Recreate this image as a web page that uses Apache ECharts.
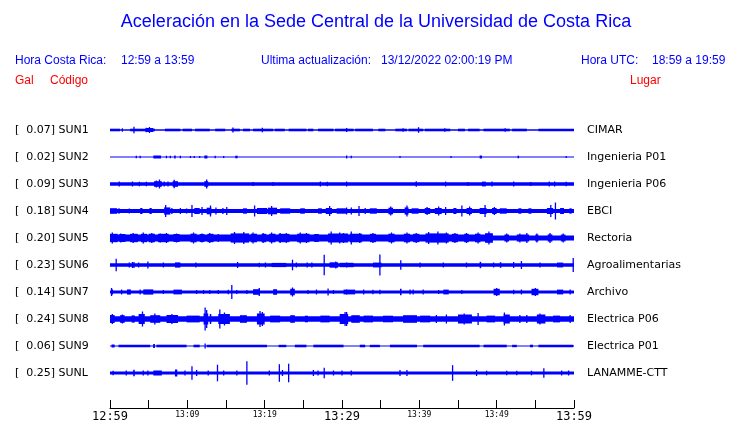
<!DOCTYPE html>
<html><head><meta charset="utf-8">
<script src="https://cdn.jsdelivr.net/npm/echarts@6/dist/echarts.min.js"></script>
<style>html,body{margin:0;padding:0;background:#fff}#c{width:740px;height:423px}</style>
</head><body><div id="c"></div>
<script>
// ---------- data ----------
var codes  = ['SUN1','SUN2','SUN3','SUN4','SUN5','SUN6','SUN7','SUN8','SUN9','SUNL'];
var gals   = ['0.07','0.02','0.09','0.18','0.20','0.23','0.14','0.24','0.06','0.25'];
var places = ['CIMAR','Ingenieria P01','Ingenieria P06','EBCI','Rectoria','Agroalimentarias','Archivo','Electrica P06','Electrica P01','LANAMME-CTT'];
var tickLabels = ['12:59','13:09','13:19','13:29','13:39','13:49','13:59'];
var bigLabels  = ['12:59','13:29','13:59'];

// per trace: base half-amplitude, bursts [startMin, endMin, half], spikes [min, half]
var sun1Base = 0.8;
var sun1Bursts = [[0,1.3,1.3],[2.6,5.8,1.3],[4.6,5.6,2.0],[7.1,9.1,1.3],[9.4,10.6,1.3],[11.0,12.9,1.3],[13.6,14.9,1.3],[15.7,16.8,1.3],[17.2,18.1,1.3],[18.5,21.1,1.3],[21.3,22.6,1.3],[23.1,25.4,1.3],[25.6,26.3,1.3],[26.9,28.9,1.3],[29.1,31.5,1.3],[31.7,34.0,1.3],[34.7,35.6,1.3],[36.9,38.4,1.3],[38.6,40.5,1.3],[40.7,44.0,1.3],[45.0,45.9,1.3],[46.3,47.8,1.3],[48.3,51.7,1.3],[52.0,53.9,1.3],[55.4,60,1.3]];
var sun1Spikes = [[1.6,1.7],[3.1,3.3],[4.7,2.3],[5.1,3.0],[15.9,2.5],[19.7,2.2],[30.6,2.0],[37.9,1.8],[39.9,2.8],[43.3,1.8],[51.1,1.8]];

var sun2Base = 0.5;
var sun2Bursts = [[5.6,6.6,1.5],[8.3,8.5,1.5],[12.2,12.6,1.5],[16.2,16.5,1.3],[47.8,48.1,1.5],[52.7,52.9,1.3]];
var sun2Spikes = [[3.4,1.3],[3.9,1.3],[7.3,1.3],[7.8,1.3],[9.1,1.3],[10.4,1.0],[10.9,1.0],[11.6,1.0],[13.6,1.3],[14.7,1.0],[30.6,1.5],[31.2,1.3],[37.5,1.0],[44.1,1.0],[59.0,1.0]];

var sun3Base = 1.7;
var sun3Bursts = [[5.7,6.7,2.8],[8.1,8.8,2.8],[12.2,12.7,2.8],[48.1,48.6,2.4]];
var sun3Spikes = [[1.2,2.5],[2.9,2.5],[3.8,2.3],[4.7,2.3],[6.0,3.5],[6.4,4.5],[7.0,2.5],[7.5,2.5],[8.3,4.3],[12.5,4.5],[18.5,2.0],[21.1,2.0],[27.2,2.5],[28.1,2.3],[30.6,2.5],[39.6,2.8],[43.4,2.5],[46.3,2.0],[49.4,2.5],[52.2,2.5],[54.4,2.0],[56.8,2.5],[57.5,2.5],[59.0,2.3]];

var sun4Base = 2.1;
var sun4Bursts = [[0,0.9,2.8],[1.0,1.3,2.5],[3.9,4.2,3.0],[5.1,5.4,3.0],[7.0,7.8,3.6],[9.8,10.0,2.5],[10.9,11.6,3.0],[12.5,13.1,3.3],[17.2,17.7,2.7],[19.0,20.3,3.0],[20.4,21.6,3.3],[22.0,23.3,2.7],[24.6,25.2,2.7],[26.9,27.4,2.7],[27.9,28.7,3.0],[29.3,30.6,2.7],[33.6,34.5,2.7],[36.0,36.6,3.3],[38.1,38.6,3.6],[39.0,39.9,2.7],[40.7,41.4,3.0],[42.0,42.9,3.0],[44.4,44.8,3.0],[46.1,46.8,3.0],[47.8,48.7,3.0],[49.4,50.0,3.0],[50.4,51.3,2.7],[52.8,53.2,2.7],[54.1,54.5,2.7],[56.5,57.3,3.0],[58.2,58.7,3.0],[59.4,59.7,2.7]];
var sun4Spikes = [[2.5,2.5],[7.2,6.0],[8.0,3.0],[9.1,3.0],[10.6,6.0],[11.9,4.0],[13.0,5.5],[13.7,3.5],[14.6,3.0],[15.1,4.0],[18.7,5.5],[20.9,5.0],[28.4,5.0],[30.6,3.5],[31.2,3.5],[32.2,5.0],[33.0,3.0],[36.3,4.5],[38.4,5.5],[41.0,4.0],[42.5,4.5],[43.4,4.0],[45.5,5.5],[46.5,4.5],[48.5,6.0],[49.7,4.0],[57.0,6.0],[57.6,8.5]];

var sun5Base = 2.6;
var sun5Bursts = [[0,49.5,3.5],[0,1.0,4.2],[1.2,2.0,4.0],[2.6,3.6,4.2],[4.0,4.8,4.2],[5.0,5.8,4.3],[6.2,7.6,4.2],[8.2,9.0,4.0],[10.4,11.2,4.3],[11.6,12.2,4.0],[12.6,13.4,4.2],[15.6,18.0,4.6],[18.2,19.0,4.3],[19.6,20.2,4.2],[20.6,21.4,4.3],[21.8,23.2,4.2],[24.2,25.8,4.3],[26.4,27.0,4.0],[28.2,30.8,4.5],[31.0,32.6,4.3],[33.6,34.4,4.2],[36.0,36.8,4.3],[38.0,38.8,4.3],[39.2,40.0,4.2],[40.8,43.8,4.6],[44.2,45.0,4.2],[45.8,46.4,4.2],[47.2,47.9,4.3],[48.5,49.5,4.8],[51.0,51.6,3.5],[52.6,54.2,3.5],[55.0,55.4,3.4],[56.6,57.2,3.6],[58.3,58.9,3.4]];
var sun5Spikes = [[0.3,5.5],[1.4,4.5],[3.0,5.0],[4.3,5.5],[5.4,5.0],[6.5,4.5],[7.3,5.0],[8.6,4.5],[10.8,5.5],[11.9,4.5],[12.9,5.0],[14.0,4.0],[16.1,6.0],[17.3,6.0],[18.5,5.5],[19.8,5.0],[20.9,5.5],[22.0,5.0],[22.8,5.0],[24.6,5.5],[25.4,5.0],[28.6,6.5],[29.7,5.5],[30.2,5.0],[31.2,6.5],[32.3,5.0],[34.0,5.0],[36.4,5.5],[38.4,5.5],[39.6,5.0],[41.2,6.0],[42.4,6.5],[43.5,5.5],[44.6,5.0],[46.1,5.0],[47.6,5.5],[49.0,6.5],[51.3,4.5],[53.0,4.5],[53.9,5.0],[55.2,4.5],[56.9,5.0],[58.6,4.5]];

var sun6Base = 1.7;
var sun6Bursts = [[8.4,9.1,2.6],[20.9,22.8,2.1],[28.4,29.5,2.7],[29.7,31.5,2.2],[34.0,35.1,2.4],[47.8,48.0,3.2],[50.4,50.6,2.8],[57.8,58.6,2.4]];
var sun6Spikes = [[0.8,6.3],[2.5,2.5],[2.9,3.0],[3.1,3.0],[3.7,2.5],[4.9,3.5],[6.9,2.5],[11.1,2.5],[16.5,3.0],[19.3,2.3],[20.1,2.5],[23.6,5.3],[24.1,2.5],[25.5,2.5],[26.1,2.5],[27.7,10.3],[29.2,3.5],[30.6,2.5],[34.9,10.5],[37.6,4.7],[40.1,2.5],[43.1,2.5],[46.1,2.5],[49.6,2.5],[52.2,3.0],[53.2,4.0],[55.6,2.5],[59.9,7.0]];

var sun7Base = 1.6;
var sun7Bursts = [[0.2,0.4,2.5],[2.2,2.7,2.6],[4.3,5.6,2.6],[8.2,9.3,2.4],[18.5,19.4,2.8],[21.1,21.6,2.8],[23.3,23.9,3.2],[30.2,31.7,2.4],[37.5,37.7,3.2],[43.1,43.8,2.4],[49.6,50.4,3.2],[54.5,55.4,3.2],[57.8,58.6,2.4]];
var sun7Spikes = [[0.2,4.0],[1.5,2.5],[3.9,2.5],[6.9,2.0],[11.2,2.0],[12.1,2.0],[12.9,2.0],[14.0,2.0],[15.3,2.3],[15.75,7.0],[16.4,2.0],[17.7,2.0],[19.3,4.0],[23.6,4.5],[25.6,2.0],[26.7,2.5],[28.2,3.5],[28.9,2.0],[30.6,2.5],[32.8,2.5],[34.0,2.3],[34.9,2.3],[38.8,2.5],[39.2,2.5],[40.5,2.5],[42.5,2.0],[45.5,2.0],[50.0,4.0],[52.2,2.3],[53.2,2.5],[55.0,4.0],[59.5,2.5]];

var sun8Base = 2.8;
var sun8Bursts = [[0,0.6,4.0],[1.3,1.9,3.8],[2.8,3.2,3.6],[3.7,4.5,5.0],[5.2,6.5,3.8],[7.3,8.8,4.0],[9.9,11.6,3.4],[12.1,12.7,5.5],[12.9,13.1,5.0],[14.0,15.5,5.0],[16.8,17.7,3.8],[19.0,20.0,5.5],[20.7,22.0,3.4],[23.3,23.9,3.8],[25.2,25.6,3.3],[27.2,28.4,3.4],[29.7,30.8,5.0],[31.2,32.3,3.8],[32.8,34.0,3.4],[35.3,36.6,3.3],[37.9,39.7,3.8],[40.1,41.4,3.4],[45.0,46.8,4.5],[48.7,49.8,3.4],[50.9,51.7,4.5],[55.2,56.3,4.5],[57.3,58.2,3.4]];
var sun8Spikes = [[0.3,5.0],[1.6,4.5],[4.2,7.5],[5.8,5.5],[8.0,5.0],[12.3,11.5],[12.5,9.0],[14.2,9.5],[14.8,6.5],[19.4,8.0],[19.7,7.0],[30.4,7.0],[30.6,7.0],[42.2,4.0],[43.5,4.5],[45.8,5.5],[47.6,6.0],[51.0,6.5],[53.0,4.0],[53.9,4.0],[55.6,5.5],[59.5,4.0]];

var sun9Base = 0.6;
var sun9Bursts = [[0.2,0.6,1.5],[1.1,5.2,1.2],[5.6,5.8,2.0],[6.0,9.9,1.3],[10.8,11.6,1.3],[12.5,20.3,1.3],[21.8,22.8,1.2],[23.9,25.4,1.3],[26.3,30.2,1.3],[32.3,33.0,1.3],[33.6,34.9,1.2],[36.2,39.7,1.3],[40.5,47.8,1.3],[48.3,51.3,1.3],[52.0,52.6,1.2],[54.3,54.7,1.3],[55.4,59.9,1.3]];
var sun9Spikes = [[5.7,2.0],[12.3,2.5]];

var sunlBase = 1.5;
var sunlBursts = [[3.0,3.2,3.3],[5.6,6.7,2.5],[8.4,8.7,3.5]];
var sunlSpikes = [[0.4,2.3],[2.1,2.5],[4.3,2.5],[4.9,2.5],[9.7,2.5],[10.6,6.7],[11.2,3.0],[12.7,2.5],[13.9,8.3],[14.7,2.5],[16.4,2.5],[17.7,11.8],[20.6,2.5],[21.9,8.8],[22.3,3.0],[23.1,9.3],[26.3,3.0],[26.9,2.5],[27.7,5.2],[28.9,2.5],[30.0,2.5],[31.2,2.5],[37.5,3.0],[38.4,3.0],[44.3,7.8],[47.4,3.0],[48.7,2.3],[51.3,2.3],[52.6,2.3],[54.5,2.3],[56.1,4.7],[58.4,2.5],[59.3,2.5]];

var traceBases  = [sun1Base, sun2Base, sun3Base, sun4Base, sun5Base, sun6Base, sun7Base, sun8Base, sun9Base, sunlBase];
var traceBursts = [sun1Bursts, sun2Bursts, sun3Bursts, sun4Bursts, sun5Bursts, sun6Bursts, sun7Bursts, sun8Bursts, sun9Bursts, sunlBursts];
var traceSpikes = [sun1Spikes, sun2Spikes, sun3Spikes, sun4Spikes, sun5Spikes, sun6Spikes, sun7Spikes, sun8Spikes, sun9Spikes, sunlSpikes];

// ---------- build ----------
var ROW_GAP = 27;
var BLUE = '#0000ff';
var rects = [];
for (var r = 0; r < codes.length; r++) {
  rects.push([0, 60, traceBases[r], r]);
  traceBursts[r].forEach(function (b) { rects.push([b[0], b[1], b[2], r]); });
  traceSpikes[r].forEach(function (s) { rects.push([s[0], s[0], s[1], r]); });
}

function renderItem(params, api) {
  var c = api.value(3) * ROW_GAP, h = api.value(2);
  var a = api.coord([api.value(0), c - h]);
  var b = api.coord([api.value(1), c + h]);
  var x0 = Math.min(a[0], b[0]), x1 = Math.max(a[0], b[0]);
  var w = x1 - x0;
  if (w < 1.3) { var mid = (x0 + x1) / 2; x0 = mid - 0.65; w = 1.3; }
  var y0 = Math.min(a[1], b[1]), hh = Math.max(Math.abs(b[1] - a[1]), 1);
  return { type: 'rect', shape: { x: x0, y: y0, width: w, height: hh }, style: { fill: BLUE } };
}

var SANS = '"Liberation Sans", Arial, sans-serif';
var DJ = '"DejaVu Sans", sans-serif';
var graphics = [
  { type: 'text', style: { text: 'Aceleración en la Sede Central de la Universidad de Costa Rica', x: 376, y: 22, textAlign: 'center', textVerticalAlign: 'middle', font: '18px ' + SANS, fill: BLUE } },
  { type: 'text', style: { text: 'Hora Costa Rica:', x: 15, y: 61, textVerticalAlign: 'middle', font: '12px ' + SANS, fill: BLUE } },
  { type: 'text', style: { text: '12:59 a 13:59', x: 121, y: 61, textVerticalAlign: 'middle', font: '12px ' + SANS, fill: BLUE } },
  { type: 'text', style: { text: 'Ultima actualización:', x: 261, y: 61, textVerticalAlign: 'middle', font: '12px ' + SANS, fill: BLUE } },
  { type: 'text', style: { text: '13/12/2022 02:00:19 PM', x: 381, y: 61, textVerticalAlign: 'middle', font: '12px ' + SANS, fill: BLUE } },
  { type: 'text', style: { text: 'Hora UTC:', x: 581, y: 61, textVerticalAlign: 'middle', font: '12px ' + SANS, fill: BLUE } },
  { type: 'text', style: { text: '18:59 a 19:59', x: 652, y: 61, textVerticalAlign: 'middle', font: '12px ' + SANS, fill: BLUE } },
  { type: 'text', style: { text: 'Gal', x: 15, y: 81, textVerticalAlign: 'middle', font: '12px ' + SANS, fill: '#ff0000' } },
  { type: 'text', style: { text: 'Código', x: 50, y: 81, textVerticalAlign: 'middle', font: '12px ' + SANS, fill: '#ff0000' } },
  { type: 'text', style: { text: 'Lugar', x: 630, y: 81, textVerticalAlign: 'middle', font: '12px ' + SANS, fill: '#ff0000' } }
];
for (var i = 0; i < codes.length; i++) {
  var yy = 130 + i * ROW_GAP;
  graphics.push({ type: 'text', style: { text: '[  ' + gals[i] + '] ' + codes[i], x: 15, y: yy, textVerticalAlign: 'middle', font: '11px ' + DJ, fill: '#000' } });
  graphics.push({ type: 'text', style: { text: places[i], x: 587, y: yy, textVerticalAlign: 'middle', font: '11px ' + DJ, fill: '#000' } });
}

var chart = echarts.init(document.getElementById('c'), null, { renderer: 'canvas' });
chart.setOption({
  animation: false,
  backgroundColor: '#fff',
  grid: { left: 110, width: 464, top: 110, height: 298 },
  xAxis: {
    type: 'value', min: 0, max: 60, interval: 5, position: 'bottom',
    axisLine: { onZero: false, lineStyle: { color: '#000', width: 1 } },
    axisTick: { inside: true, length: 8, lineStyle: { color: '#000' } },
    splitLine: { show: false },
    axisLabel: {
      margin: 3, showMinLabel: true, showMaxLabel: true,
      formatter: function (v) {
        if (v % 10 !== 0) return '';
        var t = tickLabels[v / 10];
        return bigLabels.indexOf(t) >= 0 ? '{big|' + t + '}' : '{small|' + t + '}';
      },
      rich: {
        big: { fontFamily: '"DejaVu Sans Mono", monospace', fontSize: 12, color: '#000' },
        small: { fontFamily: '"DejaVu Sans Mono", monospace', fontSize: 8, color: '#000' }
      }
    }
  },
  yAxis: { type: 'value', min: -20, max: 278, inverse: true, show: false },
  series: [{
    type: 'custom', renderItem: renderItem, data: rects,
    encode: { x: [0, 1], y: 2 }, silent: true
  }],
  graphic: graphics
});
</script></body></html>
